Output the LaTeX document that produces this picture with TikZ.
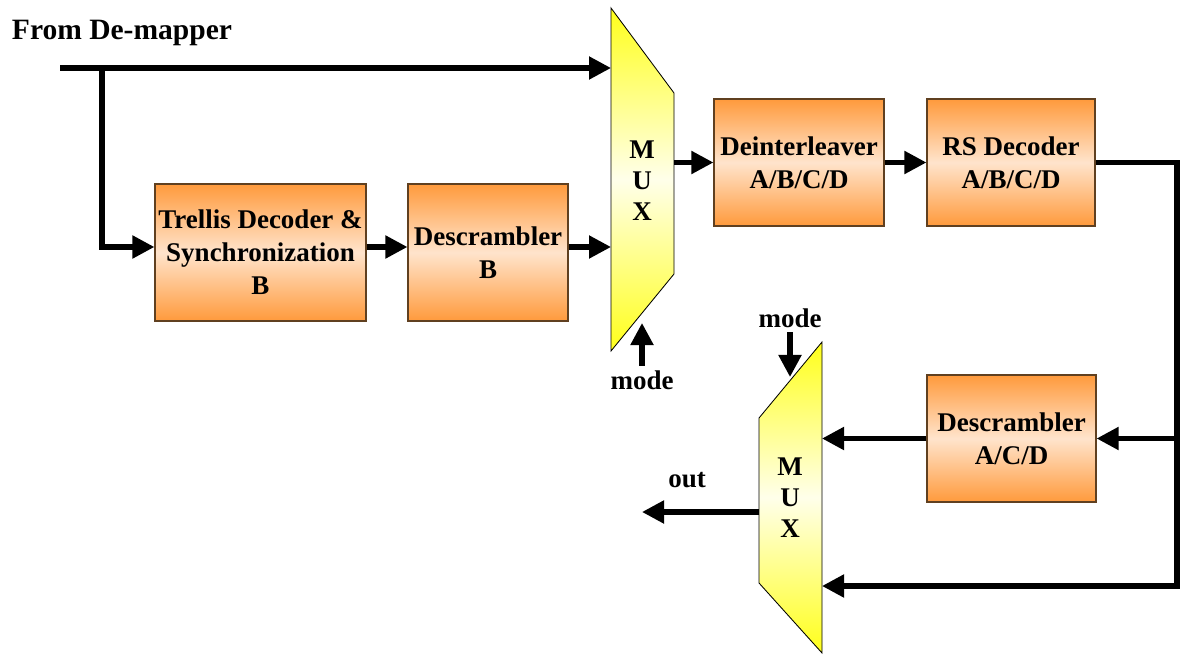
\documentclass[tikz,border=0pt]{standalone}
\usepackage{fontspec}
\setmainfont{Liberation Serif}
\usepackage{tikz}
\usetikzlibrary{positioning, arrows.meta}

\definecolor{boxedge}{HTML}{FF9A3C}
\definecolor{boxmid}{HTML}{FFE4CC}
\definecolor{muxedge}{HTML}{FFFF1A}
\definecolor{muxmid}{HTML}{FFFFEA}

\tikzset{
  block/.style={draw=brown!50!black, line width=0.8pt, top color=boxedge, bottom color=boxedge, middle color=boxmid, align=center, inner sep=0pt},
  wire/.style={line width=3.6pt},
  arr/.style={wire, -{Triangle[length=0.55cm, width=0.55cm]}},
  mux/.style={draw=black, line width=0.6pt, top color=muxedge, bottom color=muxedge, middle color=muxmid},
}

\begin{document}
\begin{tikzpicture}[x=0.025cm, y=-0.025cm, font=\fontsize{19.2}{23.5}\selectfont\bfseries]
        \useasboundingbox (0,0) rectangle (1181,655);

        % blocks
        \node[block, minimum width=5.275cm, minimum height=3.425cm] (trellis) at (260.5,252.5) {Trellis Decoder \&\\Synchronization\\B};
        \node[block, minimum width=4.0cm, minimum height=3.425cm] (descrB) at (488,252.5) {Descrambler\\B};
        \node[block, minimum width=4.25cm, minimum height=3.175cm] (deint) at (799,162.5) {Deinterleaver\\A/B/C/D};
        \node[block, minimum width=4.2cm, minimum height=3.175cm] (rs) at (1011,162.5) {RS Decoder\\A/B/C/D};
        \node[block, minimum width=4.225cm, minimum height=3.175cm] (descrACD) at (1011.5,438.5) {Descrambler\\A/C/D};

        % multiplexers
        \shade[mux] (611,8) -- (674,93) -- (674,274) -- (611,351) -- cycle;
        \node[align=center, font=\fontsize{19.2}{22}\selectfont\bfseries] (muxA) at (642,181) {M\\U\\X};
        \shade[mux] (822,342) -- (822,653) -- (759,583) -- (759,418) -- cycle;
        \node[align=center, font=\fontsize{19.2}{22}\selectfont\bfseries] (muxB) at (790,498) {M\\U\\X};

        \coordinate (mAin1) at (611,68);
        \coordinate (mAin2) at (611,247);
        \coordinate (mAout) at (674,162.5);
        \coordinate (mAsel) at (642,323);
        \coordinate (mBin1) at (822,438.5);
        \coordinate (mBin2) at (822,586);
        \coordinate (mBout) at (759,512);
        \coordinate (mBsel) at (790,377);

        % labels
        \node[anchor=west, font=\fontsize{21}{25}\selectfont\bfseries] (src) at (7,33) {From De-mapper};
        \node (modeA) at (642,380) {mode};
        \node (modeB) at (790,318) {mode};
        \node (outlbl) at (687,480) {out};

        \coordinate (feed) at (60,68);
        \coordinate (tap) at (102,68);
        \coordinate (back) at (1177,586);
        \coordinate (outend) at (642,512);

        % connectors
        \draw[arr] (feed) -- (mAin1);
        \draw[arr] (tap) |- (trellis.west |- mAin2);
        \draw[arr] (trellis.east |- mAin2) -- (descrB.west |- mAin2);
        \draw[arr] (descrB.east |- mAin2) -- (mAin2);
        \draw[arr] (mAout) -- (deint);
        \draw[arr] (deint) -- (rs);
        \draw[arr] (rs.east) -| (back) -- (mBin2);
        \draw[arr] (back |- descrACD.east) -- (descrACD.east);
        \draw[arr] (descrACD) -- (mBin1);
        \draw[arr] (mBout) -- (outend);
        \draw[arr] (mAsel |- modeA.north) -- (mAsel);
        \draw[arr] (mBsel |- modeB.south) -- (mBsel);
    \end{tikzpicture}
\end{document}
